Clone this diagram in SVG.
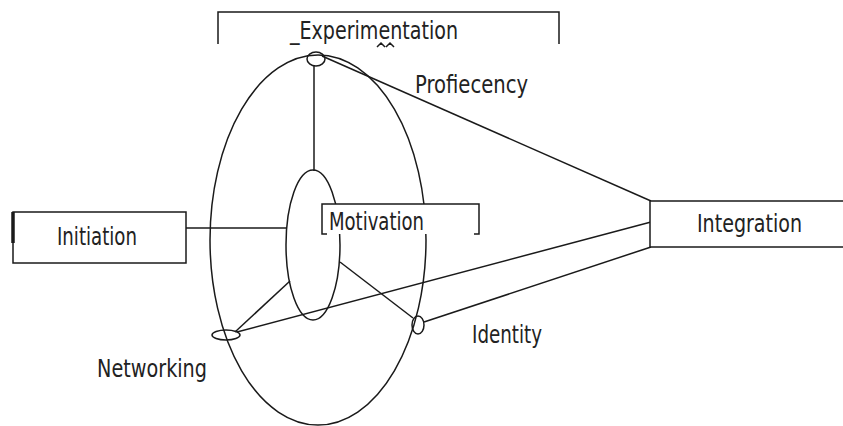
<svg xmlns="http://www.w3.org/2000/svg" width="843" height="426" viewBox="0 0 843 426">
<style>
.ln{stroke:#1a1a1a;stroke-width:1.5;fill:none}
.bx{stroke:#1a1a1a;stroke-width:1.5;fill:#fff}
.t{font-family:"DejaVu Sans Condensed","Liberation Sans",sans-serif;font-size:25px;fill:#222}
</style>
<rect width="843" height="426" fill="#fff"/>
<g id="connectors">
<ellipse class="ln" cx="318" cy="240" rx="108" ry="185"/>
<ellipse class="ln" cx="313" cy="245" rx="27" ry="75"/>
<line class="ln" x1="314" y1="66" x2="314" y2="171"/>
<line class="ln" x1="322" y1="56" x2="651" y2="201"/>
<line class="ln" x1="186" y1="228" x2="287" y2="228"/>
<line class="ln" x1="235" y1="332" x2="290" y2="281"/>
<line class="ln" x1="237" y1="332" x2="651" y2="222"/>
<line class="ln" x1="340" y1="262" x2="413" y2="318"/>
<line class="ln" x1="424" y1="322" x2="651" y2="247"/>
<path class="ln" d="M377 47 l4 -4 l4 4 M386 47 l4 -4 l4 4" stroke-width="1"/>
</g>
<g id="experimentation">
<path class="ln" d="M218 44 V12 H559 V44"/>
<text class="t" x="290" y="39" textLength="168" lengthAdjust="spacingAndGlyphs">_Experimentation</text>
</g>
<g id="top-node">
<ellipse class="ln" cx="316" cy="59" rx="9" ry="7"/>
</g>
<g id="proficiency">
<text class="t" x="415" y="93" textLength="113" lengthAdjust="spacingAndGlyphs">Profiecency</text>
</g>
<g id="initiation">
<rect class="bx" x="13" y="212" width="173" height="51"/>
<line x1="13" y1="212" x2="13" y2="243" stroke="#1a1a1a" stroke-width="3.5"/>
<text class="t" x="57" y="245" textLength="80" lengthAdjust="spacingAndGlyphs">Initiation</text>
</g>
<g id="motivation">
<rect x="322" y="204" width="157" height="30" fill="#fff"/>
<path class="ln" d="M327 234 H322 V204 H479 V234 H474"/>
<text class="t" x="329" y="230" textLength="95" lengthAdjust="spacingAndGlyphs">Motivation</text>
</g>
<g id="integration">
<rect class="bx" x="650" y="201" width="200" height="46"/>
<text class="t" x="697" y="232" textLength="105" lengthAdjust="spacingAndGlyphs">Integration</text>
</g>
<g id="networking">
<ellipse class="ln" cx="226" cy="335" rx="14" ry="5"/>
<text class="t" x="97" y="377" textLength="110" lengthAdjust="spacingAndGlyphs">Networking</text>
</g>
<g id="identity">
<ellipse class="ln" cx="418" cy="325" rx="6" ry="9"/>
<text class="t" x="472" y="343" textLength="70" lengthAdjust="spacingAndGlyphs">Identity</text>
</g>
</svg>
